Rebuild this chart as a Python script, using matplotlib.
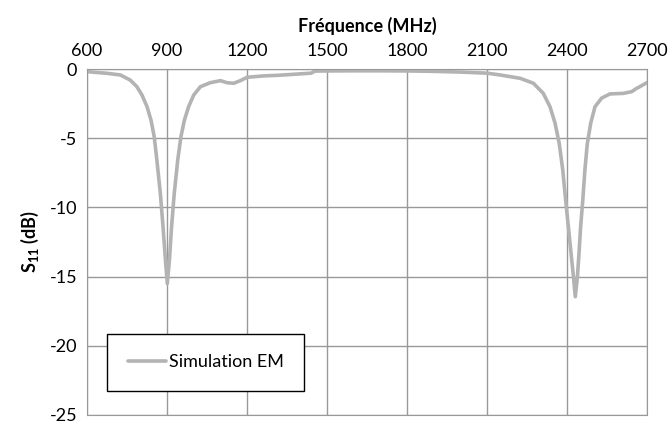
import matplotlib
matplotlib.use("Agg")
import matplotlib.pyplot as plt

# Simulated S11
freq = [600, 675, 725, 762, 787, 806, 825, 840, 852, 862, 875, 885, 894, 901,
        909, 917, 927, 940, 952, 965, 981, 1000, 1025, 1062, 1100, 1125, 1150,
        1175, 1200, 1260, 1320, 1400, 1440, 1455, 1500, 1600, 1700, 1800, 1900,
        2000, 2100, 2149, 2224, 2274, 2311, 2336, 2355, 2371, 2384, 2395, 2405,
        2415, 2424, 2431, 2439, 2445, 2451, 2459, 2467, 2476, 2489, 2505, 2530,
        2561, 2611, 2642, 2661, 2680, 2699]
s11 = [-0.19, -0.31, -0.43, -0.8, -1.28, -1.88, -2.72, -3.7, -4.9, -6.6, -9.0,
       -11.4, -13.8, -15.5, -13.8, -11.4, -9.0, -6.6, -4.9, -3.7, -2.72, -1.88,
       -1.28, -0.99, -0.84, -0.99, -1.03, -0.84, -0.6, -0.5, -0.45, -0.35, -0.3,
       -0.15, -0.14, -0.13, -0.13, -0.14, -0.17, -0.22, -0.3, -0.43, -0.67,
       -1.03, -1.76, -2.72, -3.9, -5.4, -7.3, -9.5, -11.4, -13.3, -15.0, -16.45,
       -15.0, -13.3, -11.4, -9.5, -7.3, -5.4, -3.9, -2.72, -2.1, -1.8, -1.76,
       -1.64, -1.4, -1.2, -0.99]

xticks = [600, 900, 1200, 1500, 1800, 2100, 2400, 2700]
yticks = [0, -5, -10, -15, -20, -25]

plt.rcParams['font.family'] = ['Lato', 'DejaVu Sans']
plt.rcParams['axes.unicode_minus'] = False
plt.rcParams['mathtext.fontset'] = 'custom'
plt.rcParams['mathtext.rm'] = 'Lato'
plt.rcParams['mathtext.bf'] = 'Lato:bold'

fig = plt.figure(figsize=(6.7, 4.3), dpi=100)
ax = fig.add_axes([0.1299, 0.0349, 0.8358, 0.8046])

ax.plot(freq, s11, color='#b3b3b3', linewidth=2.6, label='Simulation EM',
        solid_joinstyle='round', solid_capstyle='round')

ax.set_xlim(600, 2700)
ax.set_ylim(-25, 0)
ax.set_xticks(xticks)
ax.set_yticks(yticks)
ax.xaxis.tick_top()
ax.xaxis.set_label_position('top')
ax.tick_params(length=0, labelsize=13, pad=7)
ax.grid(True, color='#999999', linewidth=1)
for sp in ax.spines.values():
    sp.set_color('#999999')

ax.set_xlabel('Fréquence (MHz)', fontsize=13, fontweight='bold', labelpad=8)
ax.set_ylabel(r'S$_{\mathbf{11}}$ (dB)', fontsize=13, fontweight='bold', labelpad=6)

leg = ax.legend(loc='lower left', bbox_to_anchor=(0.0357, 0.069, 0.352, 0.188),
                mode='expand', borderaxespad=0, borderpad=1.15, handlelength=2.1,
                handletextpad=0.2, fontsize=13, fancybox=False, framealpha=1,
                edgecolor='black')
leg.get_frame().set_linewidth(1)

fig.savefig('out.png', dpi=100)
